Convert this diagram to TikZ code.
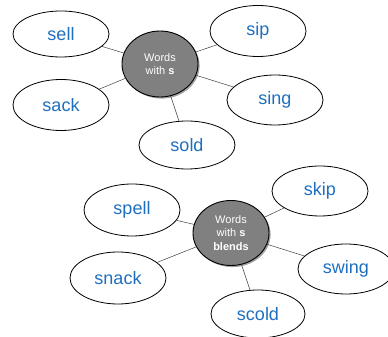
\documentclass[tikz,border=0pt]{standalone}
\usepackage{fontspec}
\setmainfont{Liberation Sans}
\usetikzlibrary{shapes.geometric,shadows}
\definecolor{wordblue}{HTML}{1F6FC0}
\definecolor{hubgray}{HTML}{808080}
\begin{document}
\begin{tikzpicture}[x=1pt,y=1pt,
  word/.style={draw=black,line width=0.8pt,ellipse,fill=white,inner sep=0pt,
    minimum width=96pt,minimum height=50pt,text=wordblue,font=\fontsize{18}{20}\selectfont},
  hub/.style={draw=black,line width=0.9pt,ellipse,fill=hubgray,inner sep=0pt,
    minimum width=76pt,minimum height=66pt,text=white,align=center,
    font=\fontsize{11}{13.5}\selectfont,
    drop shadow={shadow xshift=1.6pt,shadow yshift=-1.6pt,fill=black!45,opacity=0.8}},
  link/.style={draw=black!75,line width=0.5pt}]
\useasboundingbox (0,0) rectangle (388,337);
\clip (0,0) rectangle (388,337);
% top group
\node[hub] (c1) at (160,273) {Words\\with \textbf{s}};
\node[word,minimum height=46pt] (sell) at (61,303) {sell};
\node[word,minimum height=51pt] (sip) at (258,306) {sip};
\node[word,minimum height=51pt] (sack) at (61,232) {sack};
\node[word] (sing) at (275,237) {sing};
\node[word,minimum height=48pt] (sold) at (187,192) {sold};
% bottom group
\node[hub,minimum height=65pt] (c2) at (231,104) {Words\\with \textbf{s}\\\textbf{blends}};
\node[word,minimum height=52pt] (spell) at (132,127) {spell};
\node[word] (skip) at (320,146) {skip};
\node[word,minimum height=52pt] (snack) at (118,59) {snack};
\node[word] (swing) at (346,68) {swing};
\node[word,minimum width=94pt,minimum height=48pt] (scold) at (258,23) {scold};
% connectors
\foreach \w in {sell,sip,sack,sing,sold} \draw[link] (c1) -- (\w);
\foreach \w in {spell,skip,snack,swing,scold} \draw[link] (c2) -- (\w);
\end{tikzpicture}
\end{document}
